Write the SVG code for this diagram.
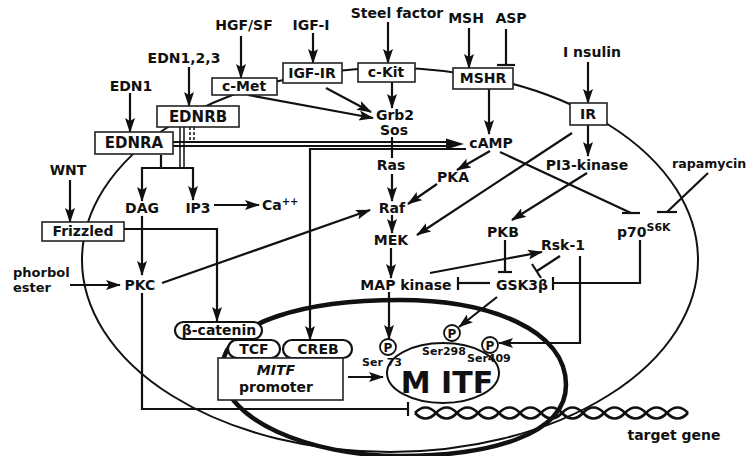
<svg xmlns="http://www.w3.org/2000/svg" width="747" height="456" viewBox="0 0 747 456">
<defs>
<marker id="ah" markerUnits="userSpaceOnUse" markerWidth="15" markerHeight="10" refX="14" refY="5" orient="auto" viewBox="0 0 15 10"><path d="M0,0 L15,5 L0,10 L3,5 z" fill="#111"/></marker>
</defs>
<style>
text{font-family:"DejaVu Sans","Liberation Sans",sans-serif;font-weight:bold;fill:#111;font-size:14px}
.c{text-anchor:middle}
.box{fill:#fff;stroke:#222;stroke-width:1.6}
.ln{fill:none;stroke:#111;stroke-width:2.2}
.thin{fill:none;stroke:#111;stroke-width:1.5}
.ar{marker-end:url(#ah)}
.mem{fill:none;stroke:#111;stroke-width:2}
.nuc{fill:none;stroke:#111;stroke-width:4.5}
.pill{fill:#fff;stroke:#111;stroke-width:2.2}
.pc{fill:#fff;stroke:#111;stroke-width:1.8}
.sm{font-size:11px}
.pt{font-size:12px}
.big{font-size:30px}
.b15{font-size:15px}
.f13{font-size:13px}
.sup{font-size:10px}
.dna{fill:none;stroke:#111;stroke-width:2.6}
</style>
<rect width="747" height="456" fill="#fff"/>

<g id="cell">
<ellipse cx="390" cy="260" rx="308" ry="192" class="mem"/>
</g>
<g id="nucleus">
<path class="nuc" d="M222,370 C222,320 310,300 400,300 C490,300 566,330 566,385 C566,435 490,456 400,456 C310,456 222,420 222,370 Z"/>
</g>
<g id="dna">
<path class="dna" d="M415,413 q10.5,-11 21,0 t21,0 t21,0 t21,0 t21,0 t21,0 t21,0 t21,0 t21,0 t21,0 t21,0 t21,0 t21,0"/>
<path class="dna" d="M415,413 q10.5,11 21,0 t21,0 t21,0 t21,0 t21,0 t21,0 t21,0 t21,0 t21,0 t21,0 t21,0 t21,0 t21,0"/>
<text x="674" y="440" class="c">target gene</text>
</g>

<g id="connectors">
<line class="ln ar" x1="241" y1="36" x2="241" y2="78"/>
<line class="ln ar" x1="313" y1="33" x2="313" y2="63"/>
<line class="ln ar" x1="388" y1="22" x2="388" y2="63"/>
<line class="ln ar" x1="469" y1="28" x2="469" y2="68"/>
<line class="ln" x1="506" y1="29" x2="506" y2="65"/>
<line class="ln" x1="497" y1="65" x2="515" y2="65"/>
<line class="ln ar" x1="588" y1="62" x2="588" y2="103"/>
<line class="ln ar" x1="189" y1="67" x2="189" y2="106"/>
<line class="ln ar" x1="130" y1="93" x2="130" y2="132"/>
<line class="ln ar" x1="70" y1="180" x2="70" y2="222"/>
<line class="ln ar" x1="248" y1="95" x2="373" y2="118"/>
<line class="ln ar" x1="326" y1="88" x2="371" y2="112"/>
<line class="ln ar" x1="392" y1="82" x2="392" y2="108"/>
<line class="ln ar" x1="489" y1="89" x2="489" y2="134"/>
<line class="ln ar" x1="588" y1="125" x2="588" y2="156"/>
<path d="M173,144 H452" fill="none" stroke="#111" stroke-width="6"/>
<path d="M173,144 H452" fill="none" stroke="#fff" stroke-width="2"/>
<polygon points="446,138.5 464,144 446,149.5" fill="#111"/>
<line class="thin" x1="190" y1="127" x2="190" y2="141" stroke-dasharray="3,2"/>
<line class="thin" x1="194" y1="127" x2="194" y2="141" stroke-dasharray="3,2"/>
<line class="thin" x1="180" y1="127" x2="180" y2="168"/>
<line class="thin" x1="184" y1="127" x2="184" y2="168"/>
<line class="ln" x1="161" y1="155" x2="161" y2="168"/>
<line class="ln" x1="141" y1="168" x2="194" y2="168"/>
<line class="ln ar" x1="142" y1="167" x2="142" y2="201"/>
<line class="ln ar" x1="193" y1="167" x2="193" y2="200"/>
<line class="ln ar" x1="214" y1="205" x2="259" y2="205"/>
<line class="ln ar" x1="142" y1="216" x2="142" y2="275"/>
<path class="ln ar" d="M124,229 H217 V321"/>
<line class="ln ar" x1="70" y1="285" x2="120" y2="285"/>
<line class="ln ar" x1="162" y1="283" x2="370" y2="210"/>
<path class="ln" d="M142,293 V409 H408"/>
<line class="ln" x1="408" y1="402" x2="408" y2="416"/>
<path class="ln ar" d="M466,149 H310 V340"/>
<line class="ln" x1="392" y1="137" x2="392" y2="158"/>
<line class="ln ar" x1="392" y1="174" x2="392" y2="201"/>
<line class="ln ar" x1="392" y1="215" x2="392" y2="233"/>
<line class="ln ar" x1="391" y1="248" x2="391" y2="278"/>
<line class="ln ar" x1="389" y1="292" x2="389" y2="339"/>
<line class="ln ar" x1="490" y1="151" x2="457" y2="170"/>
<line class="ln ar" x1="437" y1="184" x2="408" y2="204"/>
<line class="ln ar" x1="572" y1="133" x2="417" y2="235"/>
<line class="ln" x1="500" y1="152" x2="631" y2="213"/>
<line class="ln" x1="622" y1="213" x2="640" y2="213"/>
<line class="ln" x1="708" y1="173" x2="667" y2="212"/>
<line class="ln" x1="657" y1="212" x2="677" y2="212"/>
<line class="ln ar" x1="587" y1="173" x2="512" y2="220"/>
<line class="ln" x1="505" y1="240" x2="505" y2="272"/>
<line class="ln" x1="498" y1="272" x2="512" y2="272"/>
<line class="ln ar" x1="430" y1="273" x2="542" y2="252"/>
<line class="ln" x1="560" y1="256" x2="537" y2="271"/>
<line class="ln" x1="532" y1="264" x2="541" y2="278"/>
<path class="ln ar" d="M580,256 V343 H499"/>
<path class="ln" d="M640,240 V283 H554"/>
<line class="ln" x1="553" y1="277" x2="553" y2="290"/>
<line class="ln" x1="490" y1="283" x2="459" y2="283"/>
<line class="ln" x1="458" y1="277" x2="458" y2="290"/>
<line class="ln ar" x1="497" y1="297" x2="459" y2="327"/>
<line class="ln ar" x1="348" y1="377" x2="383" y2="377"/>
</g>

<g id="ligands">
<text x="244" y="30" class="c">HGF/SF</text>
<text x="311" y="30" class="c">IGF-I</text>
<text x="397" y="18" class="c">Steel factor</text>
<text x="466" y="23" class="c">MSH</text>
<text x="511" y="23" class="c">ASP</text>
<text x="592" y="57" class="c">I nsulin</text>
<text x="184" y="63" class="c">EDN1,2,3</text>
<text x="131" y="91" class="c">EDN1</text>
<text x="68" y="175" class="c">WNT</text>
<text x="13" y="277" class="f13">phorbol</text>
<text x="13" y="292" class="f13">ester</text>
<text x="672" y="168" style="font-size:12.6px">rapamycin</text>
</g>

<g id="c-Met"><rect class="box" x="212" y="78" width="65" height="17"/><text x="244" y="91" class="c">c-Met</text></g>
<g id="IGF-IR"><rect class="box" x="283" y="63" width="59" height="20"/><text x="312" y="78" class="c">IGF-IR</text></g>
<g id="c-Kit"><rect class="box" x="358" y="63" width="57" height="19"/><text x="386" y="77" class="c">c-Kit</text></g>
<g id="MSHR"><rect class="box" x="453" y="68" width="60" height="21"/><text x="483" y="83" class="c">MSHR</text></g>
<g id="IR"><rect class="box" x="570" y="103" width="37" height="22"/><text x="588" y="119" class="c">IR</text></g>
<g id="EDNRB"><rect class="box" x="157" y="106" width="82" height="21"/><text x="198" y="122" class="c b15">EDNRB</text></g>
<g id="EDNRA"><rect class="box" x="95" y="132" width="78" height="22"/><text x="134" y="148" class="c b15">EDNRA</text></g>
<g id="Frizzled"><rect class="box" x="42" y="222" width="82" height="19"/><text x="83" y="236" class="c">Frizzled</text></g>

<g id="Grb2"><text x="395" y="120" class="c">Grb2</text><text x="394" y="135" class="c">Sos</text></g>
<g id="cAMP"><text x="491" y="148" class="c">cAMP</text></g>
<g id="Ras"><text x="391" y="170" class="c">Ras</text></g>
<g id="PKA"><text x="453" y="182" class="c">PKA</text></g>
<g id="PI3-kinase"><text x="587" y="170" class="c">PI3-kinase</text></g>
<g id="Raf"><text x="392" y="213" class="c">Raf</text></g>
<g id="DAG"><text x="142" y="213" class="c">DAG</text></g>
<g id="IP3"><text x="198" y="213" class="c">IP3</text></g>
<g id="Ca"><text x="262" y="210">Ca<tspan class="sup" dy="-5">++</tspan></text></g>
<g id="MEK"><text x="391" y="245" class="c">MEK</text></g>
<g id="PKB"><text x="503" y="237" class="c">PKB</text></g>
<g id="p70S6K"><text x="617" y="237">p70<tspan style="font-size:11px" dy="-6">S6K</tspan></text></g>
<g id="Rsk-1"><text x="563" y="250" class="c">Rsk-1</text></g>
<g id="MAPK"><text x="406" y="290" class="c">MAP kinase</text></g>
<g id="GSK3b"><text x="522" y="290" class="c">GSK3β</text></g>
<g id="PKC"><text x="140" y="290" class="c">PKC</text></g>

<g id="beta-catenin"><rect class="pill" x="175" y="322" width="87" height="17" rx="8.5"/><text x="219" y="335" class="c">β-catenin</text></g>
<g id="TCF"><rect class="pill" x="228" y="340" width="52" height="18" rx="9"/><text x="254" y="354" class="c">TCF</text></g>
<g id="CREB"><rect class="pill" x="283" y="340" width="69" height="18" rx="9"/><text x="318" y="354" class="c">CREB</text></g>
<g id="promoter"><rect class="box" x="218" y="358" width="125" height="42" stroke-width="2"/><text x="276" y="375" class="c" font-style="italic">MITF</text><text x="276" y="392" class="c">promoter</text></g>

<g id="MITF">
<ellipse cx="443" cy="373" rx="56" ry="30" fill="none" stroke="#111" stroke-width="2"/>
<text x="447" y="393" class="c big">M ITF</text>
<text x="362" y="366" class="sm">Ser 73</text>
<text x="444" y="355" class="c sm">Ser298</text>
<text x="467" y="362" class="sm">Ser409</text>
</g>
<g id="P73"><circle class="pc" cx="388" cy="347" r="8"/><text x="388" y="351.5" class="c pt">P</text></g>
<g id="P298"><circle class="pc" cx="452" cy="333" r="8"/><text x="452" y="337.5" class="c pt">P</text></g>
<g id="P409"><circle class="pc" cx="490" cy="345" r="8"/><text x="490" y="349.5" class="c pt">P</text></g>
</svg>
